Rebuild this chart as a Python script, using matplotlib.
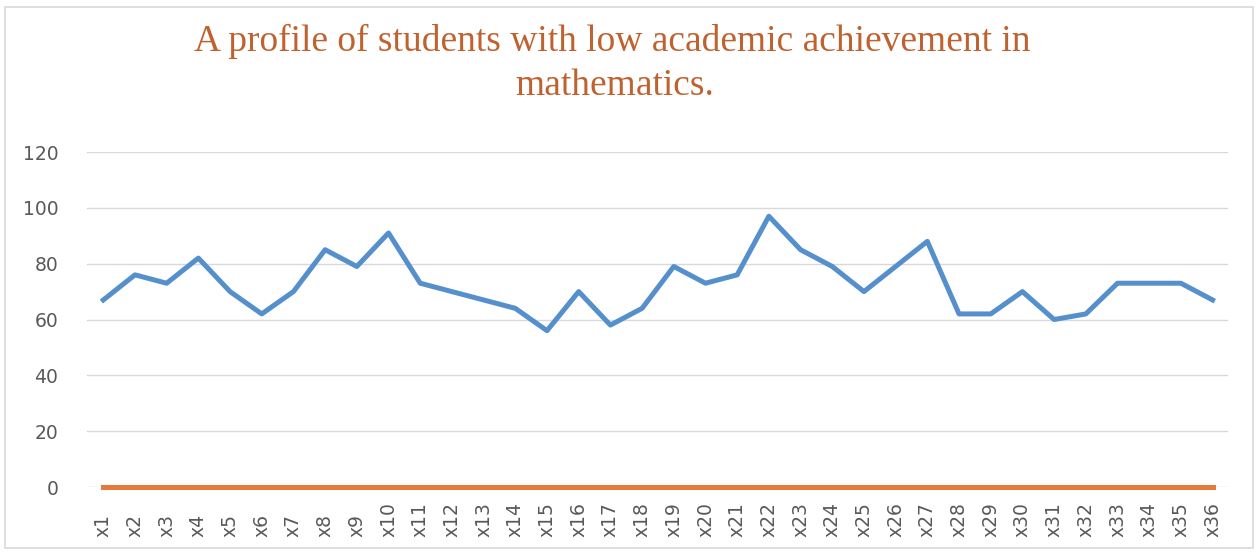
import matplotlib
matplotlib.use("Agg")
import matplotlib.pyplot as plt
from matplotlib.patches import Rectangle

labels = ["x%d" % i for i in range(1, 37)]
scores = [67, 76, 73, 82, 70, 62, 70, 85, 79, 91, 73, 70, 67, 64, 56, 70, 58, 64,
          79, 73, 76, 97, 85, 79, 70, 79, 88, 62, 62, 70, 60, 62, 73, 73, 73, 67]
baseline = [0] * 36
yticks = [0, 20, 40, 60, 80, 100, 120]

fig = plt.figure(figsize=(12.58, 5.55), dpi=100)
fig.patches.append(Rectangle((0.004, 0.012), 0.992, 0.975, transform=fig.transFigure,
                             fill=False, edgecolor="#d9d9d9", lw=1.2))
ax = fig.add_axes([0.0695, 0.1225, 0.907, 0.6036])

x = range(len(labels))
ax.plot(x, scores, color="#5590cc", lw=3.6, solid_joinstyle="round", zorder=3)
ax.plot(x, baseline, color="#e57a3c", lw=3.6, zorder=3, clip_on=False)

ax.set_xlim(-0.5, len(labels) - 0.5)
ax.set_ylim(0, 120)
ax.set_yticks(yticks)
ax.set_xticks(list(x))
ax.set_xticklabels(labels, rotation=90)
ax.grid(axis="y", color="#d9d9d9", lw=1)
ax.set_axisbelow(True)
for s in ax.spines.values():
    s.set_visible(False)
ax.tick_params(length=0, colors="#595959", labelsize=13.5)
ax.tick_params(axis="y", pad=21)
# rotated labels share a common baseline at the bottom
ax.tick_params(axis="x", pad=36)
for lbl in ax.get_xticklabels():
    lbl.set_va("bottom")

title_kw = dict(ha="center", va="baseline", fontsize=27, family="Liberation Serif",
                color="#c0622f")
fig.text(0.487, 1 - 51 / 555, "A profile of students with low academic achievement in", **title_kw)
fig.text(0.489, 1 - 95 / 555, "mathematics.", **title_kw)

plt.savefig("out.png", dpi=100)
